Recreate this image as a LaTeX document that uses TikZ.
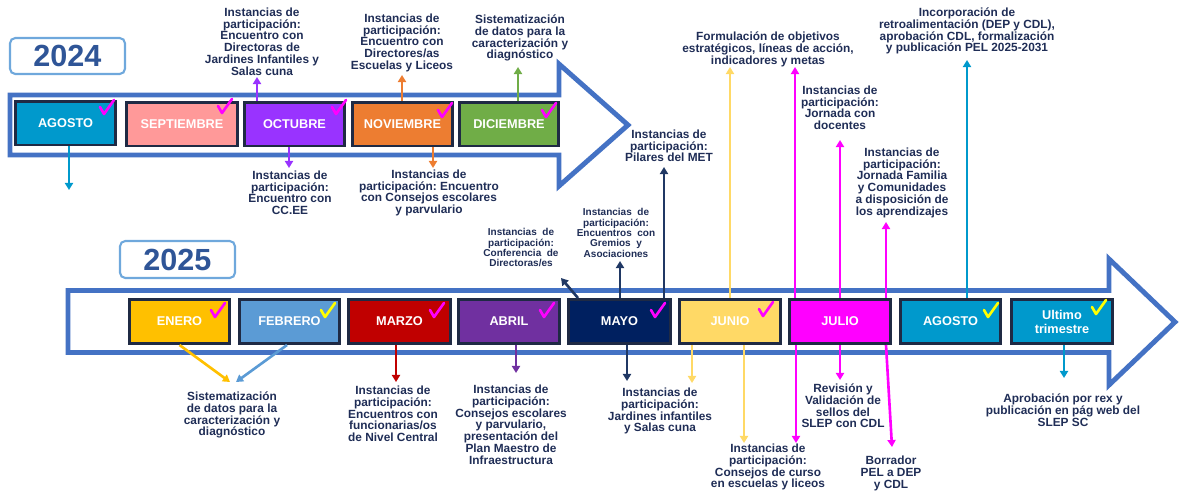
\documentclass[tikz,border=0pt]{standalone}
\usepackage{fontspec}
\setmainfont{Liberation Sans}
\usetikzlibrary{arrows.meta}
\frenchspacing
\definecolor{outl}{HTML}{4472C4}
\definecolor{yrb}{HTML}{6FA8DC}
\definecolor{yrt}{HTML}{2F5597}
\definecolor{boxb}{HTML}{1F2A44}
\definecolor{txt}{HTML}{1F2D56}
\definecolor{cAgo}{HTML}{0099CC}
\definecolor{cSep}{HTML}{FF9999}
\definecolor{cOct}{HTML}{9933FF}
\definecolor{cNov}{HTML}{ED7D31}
\definecolor{cDic}{HTML}{70AD47}
\definecolor{cEne}{HTML}{FFC000}
\definecolor{cFeb}{HTML}{5B9BD5}
\definecolor{cMar}{HTML}{C00000}
\definecolor{cAbr}{HTML}{7030A0}
\definecolor{cMay}{HTML}{002060}
\definecolor{cMayA}{HTML}{203864}
\definecolor{cJun}{HTML}{FFD966}
\definecolor{cJul}{HTML}{FF00FF}
\definecolor{mag}{HTML}{FF00FF}
\definecolor{yel}{HTML}{FFFF00}
\newcommand\lbfont{\fontsize{6.75}{6.7}\selectfont\bfseries}
\newcommand\smfont{\fontsize{5.7}{5.95}\selectfont\bfseries}
\newcommand\mfont{\fontsize{7.25}{8}\selectfont\bfseries}
\newcommand\yfont{\fontsize{17.4}{18}\selectfont\bfseries}
\newcommand\ticka[3]{\draw[#1, line width=1.5pt, line cap=round, line join=round] (#2,#3) ++(0,7) -- ++(4,7) -- ++(10,-14);}
\begin{document}
\begin{tikzpicture}[x=0.02cm,y=-0.02cm,
  bigarrow/.style={draw=outl, line width=2.8pt, line join=miter},
  yearbox/.style={draw=yrb, line width=1.2pt, rounded corners=3pt, fill=white, text=yrt, font=\yfont, inner sep=0pt},
  mbox/.style={draw=boxb, line width=1.7pt, text=white, font=\mfont, minimum height=0.88cm, align=center, inner sep=0pt},
  lbl/.style={text=txt, font=\lbfont, align=center, inner sep=0pt, anchor=north},
  slbl/.style={text=txt, font=\smfont, align=center, inner sep=0pt, anchor=north},
  arr/.style={line width=1.5pt, -{Triangle[width=4.6pt,length=4pt]}}]
\useasboundingbox (0,0) rectangle (1179,491);

% big timeline arrows
\draw[bigarrow] (10,95) -- (559,95) -- (559,64) -- (628,125) -- (559,186) -- (559,155) -- (10,155) -- cycle;
\draw[bigarrow] (68,290.5) -- (1109,290.5) -- (1109,259) -- (1175,322) -- (1109,385) -- (1109,352.5) -- (68,352.5) -- cycle;

% year boxes
\node[yearbox, minimum width=2.3cm, minimum height=0.72cm] (y24) at (67.5,56) {2024};
\node[yearbox, minimum width=2.3cm, minimum height=0.74cm] (y25) at (177.5,259.5) {2025};

% 2024 months
\node[mbox, fill=cAgo, minimum width=2.0cm]  (ago) at (65.5,123)  {AGOSTO};
\node[mbox, fill=cSep, minimum width=2.22cm] (sep) at (182,124)   {SEPTIEMBRE};
\node[mbox, fill=cOct, minimum width=2.0cm]  (oct) at (294.5,124) {OCTUBRE};
\node[mbox, fill=cNov, minimum width=2.0cm]  (nov) at (402.5,124) {NOVIEMBRE};
\node[mbox, fill=cDic, minimum width=1.98cm] (dic) at (509,124)   {DICIEMBRE};

% 2025 months
\node[mbox, fill=cEne, minimum width=2.0cm]  (ene) at (179.5,321.5) {ENERO};
\node[mbox, fill=cFeb, minimum width=2.0cm]  (feb) at (289.5,321.5) {FEBRERO};
\node[mbox, fill=cMar, minimum width=2.04cm] (mar) at (399.5,321.5) {MARZO};
\node[mbox, fill=cAbr, minimum width=2.02cm] (abr) at (509,321.5)   {ABRIL};
\node[mbox, fill=cMay, minimum width=2.04cm] (may) at (619.5,321.5) {MAYO};
\node[mbox, fill=cJun, minimum width=2.02cm] (jun) at (730,321.5)   {JUNIO};
\node[mbox, fill=cJul, minimum width=2.02cm] (jul) at (840,321.5)   {JULIO};
\node[mbox, fill=cAgo, minimum width=2.0cm]  (ag2) at (950.5,321.5) {AGOSTO};
\node[mbox, fill=cAgo, minimum width=2.02cm] (ult) at (1062,321.5)  {Ultimo\\trimestre};

% check marks
\ticka{mag}{100}{100}
\ticka{mag}{218}{99}
\ticka{mag}{332}{100}
\ticka{mag}{438}{103}
\ticka{mag}{542}{103}
\ticka{mag}{211}{303}
\ticka{yel}{321}{303}
\ticka{mag}{430}{303}
\ticka{mag}{540}{303}
\ticka{mag}{651}{303}
\ticka{mag}{759}{302}
\ticka{yel}{984}{303}
\ticka{yel}{1092}{300}

% labels 2024
\node[lbl] (t1) at (262,7.5) {Instancias de\\participación:\\Encuentro con\\Directoras de\\Jardines Infantiles y\\Salas cuna};
\node[lbl] (t2) at (290,170.5) {Instancias de\\participación:\\Encuentro con\\CC.EE};
\node[lbl] (t3) at (402,13.5) {Instancias de\\participación:\\Encuentro con\\Directores/as\\Escuelas y Liceos};
\node[lbl] (t4) at (429,169.5) {Instancias de\\participación: Encuentro\\con Consejos escolares\\y parvulario};
\node[lbl] (t5) at (520,14.5) {Sistematización\\de datos para la\\caracterización y\\diagnóstico};
\node[lbl] (t6) at (669,129.5) {Instancias de\\participación:\\Pilares del MET};

% labels 2025
\node[lbl] (t7) at (232,391.5) {Sistematización\\de datos para la\\caracterización y\\diagnóstico};
\node[lbl] (t8) at (393,385.5) {Instancias de\\participación:\\Encuentros con\\funcionarias/os\\de Nivel Central};
\node[lbl] (t9) at (511,384.5) {Instancias de\\participación:\\Consejos escolares\\y parvulario,\\presentación del\\Plan Maestro de\\Infraestructura};
\node[lbl] (t10) at (660,387.5) {Instancias de\\participación:\\Jardines infantiles\\y Salas cuna};
\node[slbl] (t11) at (616,208) {Instancias~ de\\participación:\\Encuentros~ con\\Gremios~ y\\Asociaciones};
\node[slbl] (t12) at (521,228) {Instancias~ de\\participación:\\Conferencia~ de\\Directoras/es};
\node[lbl] (t13) at (768,31.5) {Formulación de objetivos\\estratégicos, líneas de acción,\\indicadores y metas};
\node[lbl] (t14) at (840,85.5) {Instancias de\\participación:\\Jornada con\\docentes};
\node[lbl] (t15) at (902,147.5) {Instancias de\\participación:\\Jornada Familia\\y Comunidades\\a disposición de\\los aprendizajes};
\node[lbl] (t16) at (768,443.5) {Instancias de\\participación:\\Consejos de curso\\en escuelas y liceos};
\node[lbl] (t17) at (843,383.5) {Revisión y\\Validación de\\sellos del\\SLEP con CDL};
\node[lbl] (t18) at (891,455.5) {Borrador\\PEL a DEP\\y CDL};
\node[lbl] (t19) at (967,7.5) {Incorporación de\\retroalimentación (DEP y CDL),\\aprobación CDL, formalización\\y publicación PEL 2025-2031};
\node[lbl] (t20) at (1063,393.5) {Aprobación por rex y\\publicación en pág web del\\SLEP SC};

% end points of connectors
\coordinate (e1) at (69,190);
\coordinate (e2) at (257,77);
\coordinate (e3) at (289,168);
\coordinate (e4) at (402,75);
\coordinate (e5) at (433,168);
\coordinate (e6) at (518,67);
\coordinate (e7) at (230,382);
\coordinate (e8) at (236,382);
\coordinate (e9) at (396,382);
\coordinate (e10) at (516,373);
\coordinate (e11) at (627,381);
\coordinate (e12) at (620,261);
\coordinate (e13) at (561,278);
\coordinate (e14) at (664,167);
\coordinate (e15) at (730,67);
\coordinate (e16) at (692,383);
\coordinate (e17) at (744,443);
\coordinate (e18) at (795,67);
\coordinate (e19) at (840,140);
\coordinate (e20) at (886,222);
\coordinate (e21) at (796,443);
\coordinate (e22) at (840,380);
\coordinate (e23) at (892,447);
\coordinate (e24) at (967,60);
\coordinate (e25) at (1064,378);

% connectors 2024
\draw[arr, cAgo] (ago.south -| e1) -- (e1);
\draw[arr, cOct] (oct.north -| e2) -- (e2);
\draw[arr, cOct] (oct.south -| e3) -- (e3);
\draw[arr, cNov] (nov.north -| e4) -- (e4);
\draw[arr, cNov] (nov.south -| e5) -- (e5);
\draw[arr, cDic] (dic.north -| e6) -- (e6);

% connectors 2025
\draw[arr, cEne] (ene.south) -- (e7);
\draw[arr, cFeb] (feb.south -| 287,0) -- (e8);
\draw[arr, cMar] (mar.south -| e9) -- (e9);
\draw[arr, cAbr] (abr.south -| e10) -- (e10);
\draw[arr, cMayA] (may.south -| e11) -- (e11);
\draw[arr, cMayA] (may.north -| e12) -- (e12);
\draw[arr, cMayA] (may.north -| 578,0) -- (e13);
\draw[arr, cMayA] (may.north -| e14) -- (e14);
\draw[arr, cJun] (jun.north -| e15) -- (e15);
\draw[arr, cJun] (jun.south -| e16) -- (e16);
\draw[arr, cJun] (jun.south -| e17) -- (e17);
\draw[arr, cJul] (jul.north -| e18) -- (e18);
\draw[arr, cJul] (jul.north -| e19) -- (e19);
\draw[arr, cJul] (jul.north -| e20) -- (e20);
\draw[arr, cJul] (jul.south -| e21) -- (e21);
\draw[arr, cJul] (jul.south -| e22) -- (e22);
\draw[arr, cJul] (jul.south -| 886,0) -- (e23);
\draw[arr, cAgo] (ag2.north -| e24) -- (e24);
\draw[arr, cAgo] (ult.south -| e25) -- (e25);
\end{tikzpicture}
\end{document}
